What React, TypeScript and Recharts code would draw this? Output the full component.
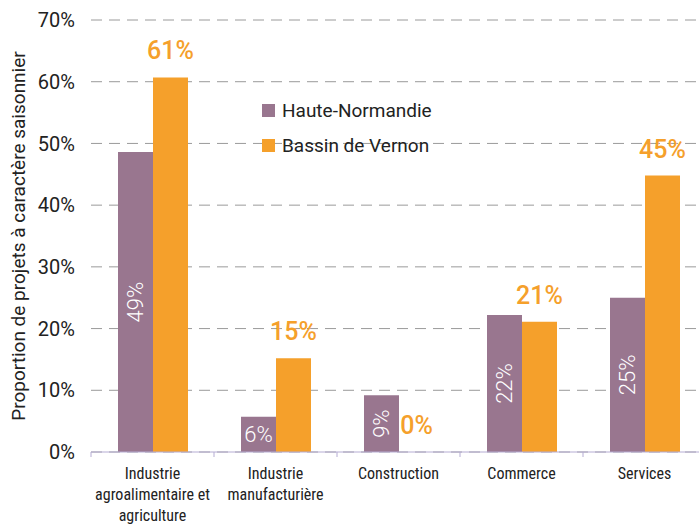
import { Bar, BarChart, CartesianGrid, LabelList, XAxis, YAxis } from "recharts";

const categories = [
  "Industrie\nagroalimentaire et\nagriculture",
  "Industrie\nmanufacturière",
  "Construction",
  "Commerce",
  "Services"
];
const hauteNormandie = [48.6, 5.7, 9.2, 22.2, 25];
const bassinVernon = [60.7, 15.2, 0, 21.1, 44.8];
const hauteLabels = ["49%", "6%", "9%", "22%", "25%"];
const vernonLabels = ["61%", "15%", "0%", "21%", "45%"];
const yTicks = [0, 10, 20, 30, 40, 50, 60, 70];

const PURPLE = "#99768f";
const ORANGE = "#f5a02b";
const NARROW = "'Roboto Condensed', 'Liberation Sans Narrow', Roboto, sans-serif";
const FONT = "Roboto, 'Noto Sans', sans-serif";
const CAT_WIDTH = 123;

const data = categories.map((name, i) => ({
  name,
  haute: hauteNormandie[i],
  vernon: bassinVernon[i],
  hauteLabel: hauteLabels[i],
  vernonLabel: vernonLabels[i]
}));

function CategoryTick(props: any) {
  const { x, payload, index } = props;
  const lines = String(payload.value).split("\n");
  return (
    <g>
      <line x1={x - CAT_WIDTH / 2} x2={x - CAT_WIDTH / 2} y1={452} y2={457} stroke="#b5acd3" />
      {index === categories.length - 1 && (
        <line x1={x + CAT_WIDTH / 2} x2={x + CAT_WIDTH / 2} y1={452} y2={457} stroke="#b5acd3" />
      )}
      {lines.map((line, i) => (
        <text key={i} x={x} y={479 + i * 21} textAnchor="middle" fontSize={16} fontFamily={NARROW} fill="#222">
          {line}
        </text>
      ))}
    </g>
  );
}

function HauteLabel(props: any) {
  const { x, y, width, height, value } = props;
  const cx = x + width / 2;
  const cy = y + height / 2;
  const rotate = height >= 45 ? `rotate(-90 ${cx} ${cy})` : undefined;
  return (
    <text x={cx} y={cy} dy="0.36em" textAnchor="middle" fontSize={22} fontWeight={300} fontFamily={FONT} fill="#fff" transform={rotate}>
      {value}
    </text>
  );
}

function VernonLabel(props: any) {
  const { x, y, width, value } = props;
  return (
    <text x={x + width / 2} y={y - 27} dy="0.36em" textAnchor="middle" fontSize={25} fontWeight={500} fontFamily={FONT} fill={ORANGE}>
      {value}
    </text>
  );
}

function LegendBox() {
  const items = [
    { label: "Haute-Normandie", color: PURPLE },
    { label: "Bassin de Vernon", color: ORANGE }
  ];
  return (
    <div style={{ position: "absolute", left: 262, top: 93, fontFamily: FONT }}>
      {items.map((item) => (
        <div key={item.label} style={{ display: "flex", alignItems: "center", height: 35 }}>
          <span style={{ display: "inline-block", width: 13, height: 13, background: item.color, marginRight: 7 }} />
          <span style={{ fontSize: 19, color: "#222" }}>{item.label}</span>
        </div>
      ))}
    </div>
  );
}

function YTitle() {
  return (
    <text
      x={18}
      y={236}
      textAnchor="middle"
      dy="0.35em"
      fontSize={19}
      fontFamily={FONT}
      fill="#222"
      transform="rotate(-90 18 236)"
    >
      Proportion de projets à caractère saisonnier
    </text>
  );
}

export default function App() {
  return (
    <div style={{ position: "absolute", left: 0, top: 0, width: 699, height: 524, overflow: "hidden", background: "#fff" }}>
      <BarChart
        width={720}
        height={524}
        data={data}
        margin={{ top: 20, right: 14, bottom: 0, left: 0 }}
        barGap={0}
        barSize={35}
      >
        <CartesianGrid vertical={false} stroke="#9a9a9a" strokeDasharray="11 7" />
        <XAxis
          dataKey="name"
          interval={0}
          height={72}
          tickLine={false}
          axisLine={{ stroke: "#b5acd3" }}
          tick={<CategoryTick />}
        />
        <YAxis
          width={91}
          domain={[0, 70]}
          ticks={yTicks}
          axisLine={false}
          tickLine={false}
          tickSize={0}
          tickMargin={16}
          tickFormatter={(v) => `${v}%`}
          tick={{ fontSize: 20, fill: "#222", fontFamily: FONT }}
          label={<YTitle />}
        />
        <Bar dataKey="haute" fill={PURPLE} isAnimationActive={false}>
          <LabelList dataKey="hauteLabel" content={<HauteLabel />} />
        </Bar>
        <Bar dataKey="vernon" fill={ORANGE} minPointSize={0.01} isAnimationActive={false}>
          <LabelList dataKey="vernonLabel" content={<VernonLabel />} />
        </Bar>
      </BarChart>
      <LegendBox />
    </div>
  );
}
